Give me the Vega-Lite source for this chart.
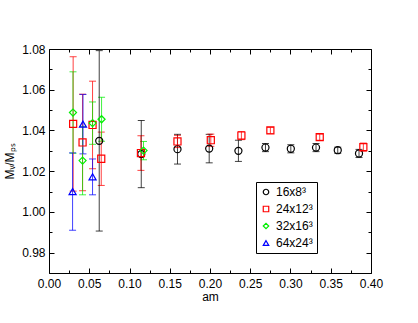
{
  "$schema": "https://vega.github.io/schema/vega-lite/v6.json",
  "width": 322,
  "height": 224,
  "autosize": {"type": "none"},
  "padding": {"left": 49, "top": 49, "right": 47, "bottom": 50},
  "background": "white",
  "data": {
    "values": [
      {"series": "16x8³", "x": 0.0624, "y": 1.0349, "err": 0.0443},
      {"series": "16x8³", "x": 0.1146, "y": 1.0284, "err": 0.0165},
      {"series": "16x8³", "x": 0.1596, "y": 1.0308, "err": 0.0073},
      {"series": "16x8³", "x": 0.199, "y": 1.0311, "err": 0.007},
      {"series": "16x8³", "x": 0.2353, "y": 1.030, "err": 0.0052},
      {"series": "16x8³", "x": 0.2689, "y": 1.0316, "err": 0.002},
      {"series": "16x8³", "x": 0.3004, "y": 1.031, "err": 0.002},
      {"series": "16x8³", "x": 0.3317, "y": 1.0316, "err": 0.002},
      {"series": "16x8³", "x": 0.3587, "y": 1.0303, "err": 0.0015},
      {"series": "16x8³", "x": 0.3851, "y": 1.0287, "err": 0.002},
      {"series": "24x12³", "x": 0.030, "y": 1.0432, "err": 0.033},
      {"series": "24x12³", "x": 0.0417, "y": 1.0341, "err": 0.0237},
      {"series": "24x12³", "x": 0.0541, "y": 1.0427, "err": 0.0215},
      {"series": "24x12³", "x": 0.0649, "y": 1.0261, "err": 0.0131},
      {"series": "24x12³", "x": 0.1142, "y": 1.0289, "err": 0.0085},
      {"series": "24x12³", "x": 0.1596, "y": 1.0346, "err": 0.003},
      {"series": "24x12³", "x": 0.201, "y": 1.0352, "err": 0.003},
      {"series": "24x12³", "x": 0.239, "y": 1.0375, "err": 0.002},
      {"series": "24x12³", "x": 0.275, "y": 1.040, "err": 0.0015},
      {"series": "24x12³", "x": 0.3363, "y": 1.0367, "err": 0.0015},
      {"series": "24x12³", "x": 0.3905, "y": 1.0318, "err": 0.002},
      {"series": "32x16³", "x": 0.0298, "y": 1.0488, "err": 0.020},
      {"series": "32x16³", "x": 0.0417, "y": 1.0252, "err": 0.0168},
      {"series": "32x16³", "x": 0.0541, "y": 1.0436, "err": 0.0104},
      {"series": "32x16³", "x": 0.0653, "y": 1.0455, "err": 0.0108},
      {"series": "32x16³", "x": 0.1174, "y": 1.0301, "err": 0.0045},
      {"series": "64x24³", "x": 0.0293, "y": 1.0100, "err": 0.019},
      {"series": "64x24³", "x": 0.0422, "y": 1.0431, "err": 0.0146},
      {"series": "64x24³", "x": 0.0541, "y": 1.0172, "err": 0.0088}
    ]
  },
  "layer": [
    {
      "mark": {"type": "errorbar", "thickness": 1, "rule": {"opacity": 0.75}, "ticks": {"size": 7, "opacity": 0.75}},
      "encoding": {
        "x": {"field": "x", "type": "quantitative", "scale": {"domain": [0, 0.4], "nice": false, "zero": false, "padding": 0},
          "axis": {"orient": "bottom", "offset": -5, "tickSize": 5, "values": [0, 0.05, 0.1, 0.15, 0.2, 0.25, 0.3, 0.35, 0.4], "format": ".2f", "labelPadding": 5, "title": "am", "titlePadding": 2}},
        "y": {"field": "y", "type": "quantitative", "scale": {"domain": [0.97, 1.08], "nice": false, "zero": false, "padding": 0},
          "axis": {"orient": "left", "offset": -5, "tickSize": 5, "values": [0.98, 1.0, 1.02, 1.04, 1.06, 1.08], "format": ".2f", "labelPadding": 4, "title": "Mᵥ/Mₚₛ", "titlePadding": 5}},
        "yError": {"field": "err"},
        "color": {"field": "series", "type": "nominal", "title": null, "legend": null,
          "scale": {"domain": ["16x8³", "24x12³", "32x16³", "64x24³"], "range": ["#000000", "#ff0000", "#00ee00", "#0000ff"]}}
      }
    },
    {
      "mark": {"type": "point", "filled": false, "size": 50, "strokeWidth": 1.2, "opacity": 1},
      "encoding": {
        "x": {"field": "x", "type": "quantitative",
          "axis": {"orient": "top", "offset": -5, "tickSize": 5, "values": [0, 0.05, 0.1, 0.15, 0.2, 0.25, 0.3, 0.35, 0.4], "labels": false, "title": null}},
        "y": {"field": "y", "type": "quantitative",
          "axis": {"orient": "right", "offset": -5, "tickSize": 5, "values": [0.98, 1.0, 1.02, 1.04, 1.06, 1.08], "labels": false, "title": null}},
        "color": {"field": "series", "type": "nominal", "title": null},
        "shape": {"field": "series", "type": "nominal", "title": null,
          "scale": {"domain": ["16x8³", "24x12³", "32x16³", "64x24³"], "range": ["circle", "square", "diamond", "triangle-up"]}}
      }
    },
    {
      "mark": {"type": "point", "opacity": 0},
      "encoding": {
        "x": {"field": "x", "type": "quantitative",
          "axis": {"orient": "bottom", "offset": -3, "tickSize": 3, "values": [0.025, 0.075, 0.125, 0.175, 0.225, 0.275, 0.325, 0.375], "labels": false, "title": null}},
        "y": {"field": "y", "type": "quantitative",
          "axis": {"orient": "left", "offset": -3, "tickSize": 3, "values": [0.97, 0.99, 1.01, 1.03, 1.05, 1.07], "labels": false, "title": null}}
      }
    },
    {
      "mark": {"type": "point", "opacity": 0},
      "encoding": {
        "x": {"field": "x", "type": "quantitative",
          "axis": {"orient": "top", "offset": -3, "tickSize": 3, "values": [0.025, 0.075, 0.125, 0.175, 0.225, 0.275, 0.325, 0.375], "labels": false, "title": null}},
        "y": {"field": "y", "type": "quantitative",
          "axis": {"orient": "right", "offset": -3, "tickSize": 3, "values": [0.97, 0.99, 1.01, 1.03, 1.05, 1.07], "labels": false, "title": null}}
      }
    }
  ],
  "resolve": {"axis": {"x": "independent", "y": "independent"}, "legend": {"color": "independent", "shape": "independent"}},
  "config": {
    "view": {"stroke": "black", "strokeWidth": 1},
    "axis": {"domain": false, "grid": false, "labelFlush": false, "tickColor": "black", "tickWidth": 1, "labelColor": "black", "labelFont": "Liberation Sans", "labelFontSize": 12, "titleFont": "Liberation Sans", "titleFontSize": 12, "titleFontWeight": "normal", "titleColor": "black"},
    "legend": {"orient": "none", "legendX": 207, "legendY": 133, "strokeColor": "black", "strokeWidth": 1, "fillColor": "white", "padding": 4, "columnPadding": 0, "labelFont": "Liberation Sans", "labelFontSize": 12, "labelColor": "black", "symbolSize": 30, "symbolStrokeWidth": 1.2, "rowPadding": 5, "labelOffset": 4, "cornerRadius": 0}
  }
}
